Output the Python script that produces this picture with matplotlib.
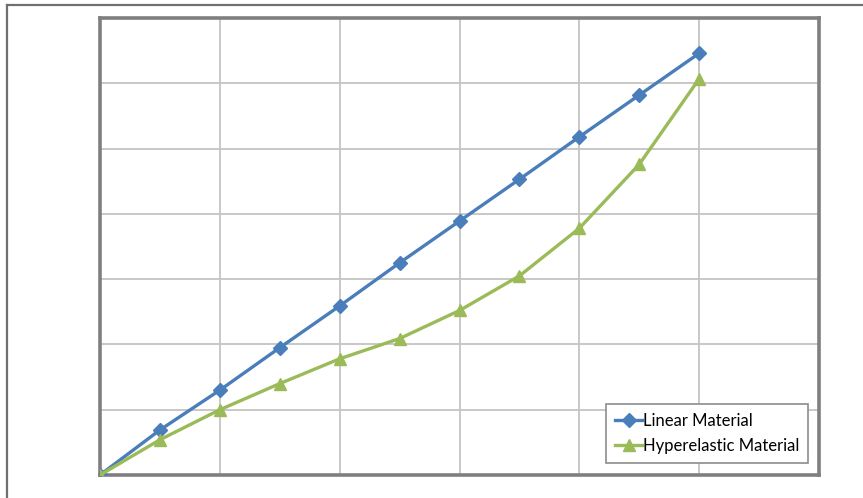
import numpy as np
import matplotlib
matplotlib.use("Agg")
import matplotlib.pyplot as plt
from matplotlib.lines import Line2D

# data (y in grid units, one grid = 1)
steps = np.arange(0, 11)
linear = [0, 0.69, 1.30, 1.95, 2.59, 3.25, 3.89, 4.53, 5.18, 5.82, 6.46]
hyper = [0, 0.54, 1.00, 1.40, 1.78, 2.09, 2.52, 3.05, 3.78, 4.76, 6.07]
labels = ['Linear Material', 'Hyperelastic Material']

BLUE = '#4a7ebb'
GREEN = '#9bbb59'

plt.rcParams['font.family'] = ['Lato', 'DejaVu Sans']

fig = plt.figure(figsize=(8.63, 4.98), dpi=100)
ax = fig.add_axes([0.1159, 0.0462, 0.8332, 0.9177])

ax.plot(steps, linear, color=BLUE, lw=2.4, marker='D', ms=7,
        label=labels[0], zorder=3)
ax.plot(steps, hyper, color=GREEN, lw=2.4, marker='^', ms=8,
        label=labels[1], zorder=3)

ax.set_xlim(0, 12)
ax.set_ylim(0, 7)
ax.set_xticks(np.arange(0, 13, 2))
ax.set_yticks(np.arange(0, 8, 1))
ax.tick_params(length=0, labelbottom=False, labelleft=False)
ax.grid(True, color='#c4c4c4', lw=1.3)
ax.set_axisbelow(True)
for s in ax.spines.values():
    s.set_color('#7f7f7f')
    s.set_linewidth(2.6)

leg = ax.legend(loc='lower right', bbox_to_anchor=(0.985, 0.026),
                borderaxespad=0, fontsize=12, handlelength=1.6,
                handletextpad=0.05, fancybox=False, framealpha=1,
                edgecolor='#8c8c8c', borderpad=0.55, labelspacing=0.55)
leg.get_frame().set_linewidth(1.2)

# border of the cropped figure (left and top only)
fig.add_artist(Line2D([7 / 863, 7 / 863], [0, 1 - 5 / 498],
                      transform=fig.transFigure, color='#707070', lw=1.6))
fig.add_artist(Line2D([7 / 863, 1], [1 - 5 / 498, 1 - 5 / 498],
                      transform=fig.transFigure, color='#707070', lw=1.6))

fig.savefig('out.png', dpi=100)
